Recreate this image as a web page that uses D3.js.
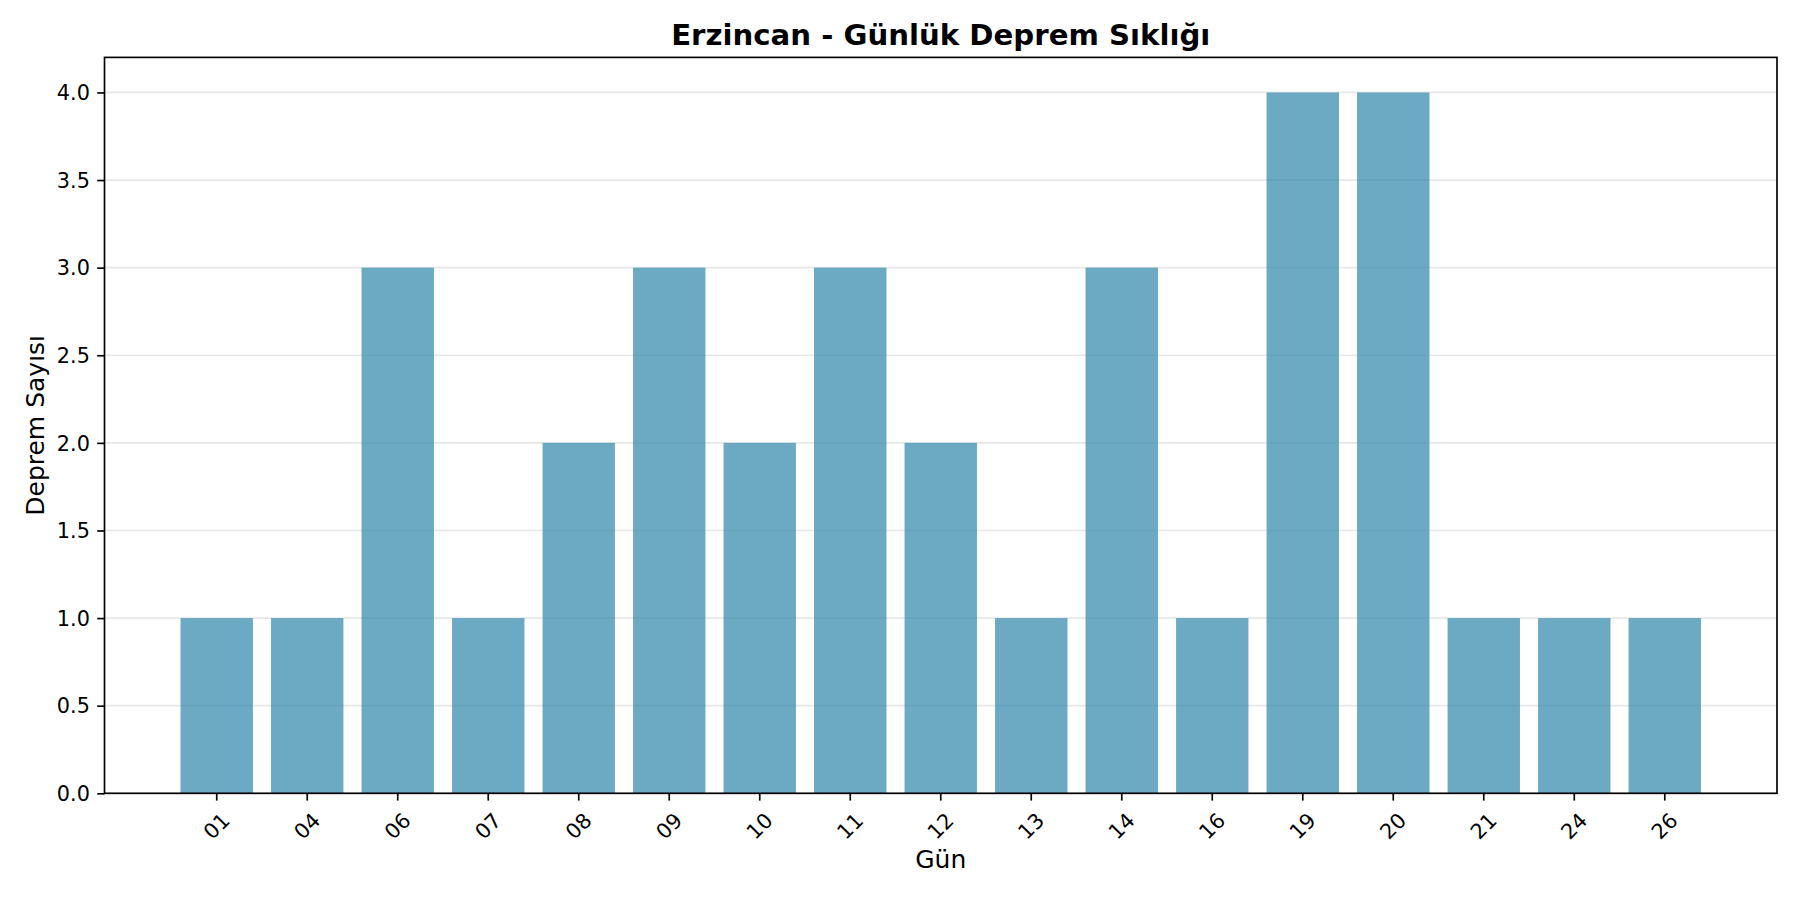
<!DOCTYPE html>
<html>
<head>
<meta charset="utf-8">
<script src="https://cdn.jsdelivr.net/npm/d3@7"></script>
<style>
  body { margin: 0; background: #fff; }
  text { font-family: "DejaVu Sans", sans-serif; fill: #000; }
</style>
</head>
<body>
<div id="chart-area"></div>
<script>
// data
var days = ["01", "04", "06", "07", "08", "09", "10", "11", "12", "13", "14", "16", "19", "20", "21", "24", "26"];
var counts = [1, 1, 3, 1, 2, 3, 2, 3, 2, 1, 3, 1, 4, 4, 1, 1, 1];
var yTicks = [0, 0.5, 1, 1.5, 2, 2.5, 3, 3.5, 4];

var margin = { left: 104.5, right: 23, top: 57.4, bottom: 106.7 };
var width = 1800 - margin.left - margin.right,
    height = 900 - margin.top - margin.bottom;

var svg = d3.select("#chart-area")
  .append("svg")
    .attr("width", 1800)
    .attr("height", 900);

var g = svg.append("g")
  .attr("transform", "translate(" + margin.left + ", " + margin.top + ")");

var x = d3.scaleBand()
  .domain(days)
  .range([0, width])
  .paddingInner(0.2)
  .paddingOuter(0.84);

var y = d3.scaleLinear()
  .domain([0, d3.max(counts) * 1.05])
  .range([height, 0]);

// grid (y only)
g.append("g")
  .selectAll("line")
  .data(yTicks)
  .enter()
  .append("line")
    .attr("x1", 0)
    .attr("x2", width)
    .attr("y1", function(d) { return y(d); })
    .attr("y2", function(d) { return y(d); })
    .attr("stroke", "#b0b0b0")
    .attr("stroke-opacity", 0.3)
    .attr("stroke-width", 1.67);

// bars
g.selectAll("rect.bar")
  .data(counts)
  .enter()
  .append("rect")
    .attr("class", "bar")
    .attr("x", function(d, i) { return x(days[i]); })
    .attr("y", function(d) { return y(d); })
    .attr("width", x.bandwidth())
    .attr("height", function(d) { return height - y(d); })
    .attr("fill", "#2E86AB")
    .attr("fill-opacity", 0.7);

// y axis
var yAxisCall = d3.axisLeft(y)
  .tickValues(yTicks)
  .tickFormat(d3.format(".1f"))
  .tickSize(7.3)
  .tickPadding(7.3);

var yAxis = g.append("g")
  .attr("class", "y axis")
  .call(yAxisCall);
yAxis.select(".domain").remove();
yAxis.selectAll("line").attr("stroke", "#000").attr("stroke-width", 1.67);
yAxis.selectAll("text")
  .attr("font-size", "20.8px")
  .attr("font-family", "DejaVu Sans")
  .attr("dy", "0.35em");

// x axis
var xAxisCall = d3.axisBottom(x)
  .tickSize(7.3)
  .tickPadding(7.3);

var xAxis = g.append("g")
  .attr("class", "x axis")
  .attr("transform", "translate(0, " + height + ")")
  .call(xAxisCall);
xAxis.select(".domain").remove();
xAxis.selectAll("line").attr("stroke", "#000").attr("stroke-width", 1.67);
xAxis.selectAll("text")
  .attr("font-size", "20.8px")
  .attr("font-family", "DejaVu Sans")
  .attr("text-anchor", "middle")
  .attr("dominant-baseline", "central")
  .attr("y", 33)
  .attr("dy", null)
  .attr("transform", "rotate(-45, 0, 33)");

// frame
g.append("rect")
  .attr("width", width)
  .attr("height", height)
  .attr("fill", "none")
  .attr("stroke", "#000")
  .attr("stroke-width", 1.67);

// title
svg.append("text")
  .attr("x", margin.left + width / 2)
  .attr("y", 45)
  .attr("text-anchor", "middle")
  .attr("font-size", "29.2px")
  .attr("font-weight", "bold")
  .text("Erzincan - Günlük Deprem Sıklığı");

// x label
svg.append("text")
  .attr("x", margin.left + width / 2)
  .attr("y", 868)
  .attr("text-anchor", "middle")
  .attr("font-size", "25px")
  .text("Gün");

// y label
svg.append("text")
  .attr("transform", "translate(44, " + (margin.top + height / 2) + ") rotate(-90)")
  .attr("text-anchor", "middle")
  .attr("font-size", "25px")
  .text("Deprem Sayısı");
</script>
</body>
</html>
